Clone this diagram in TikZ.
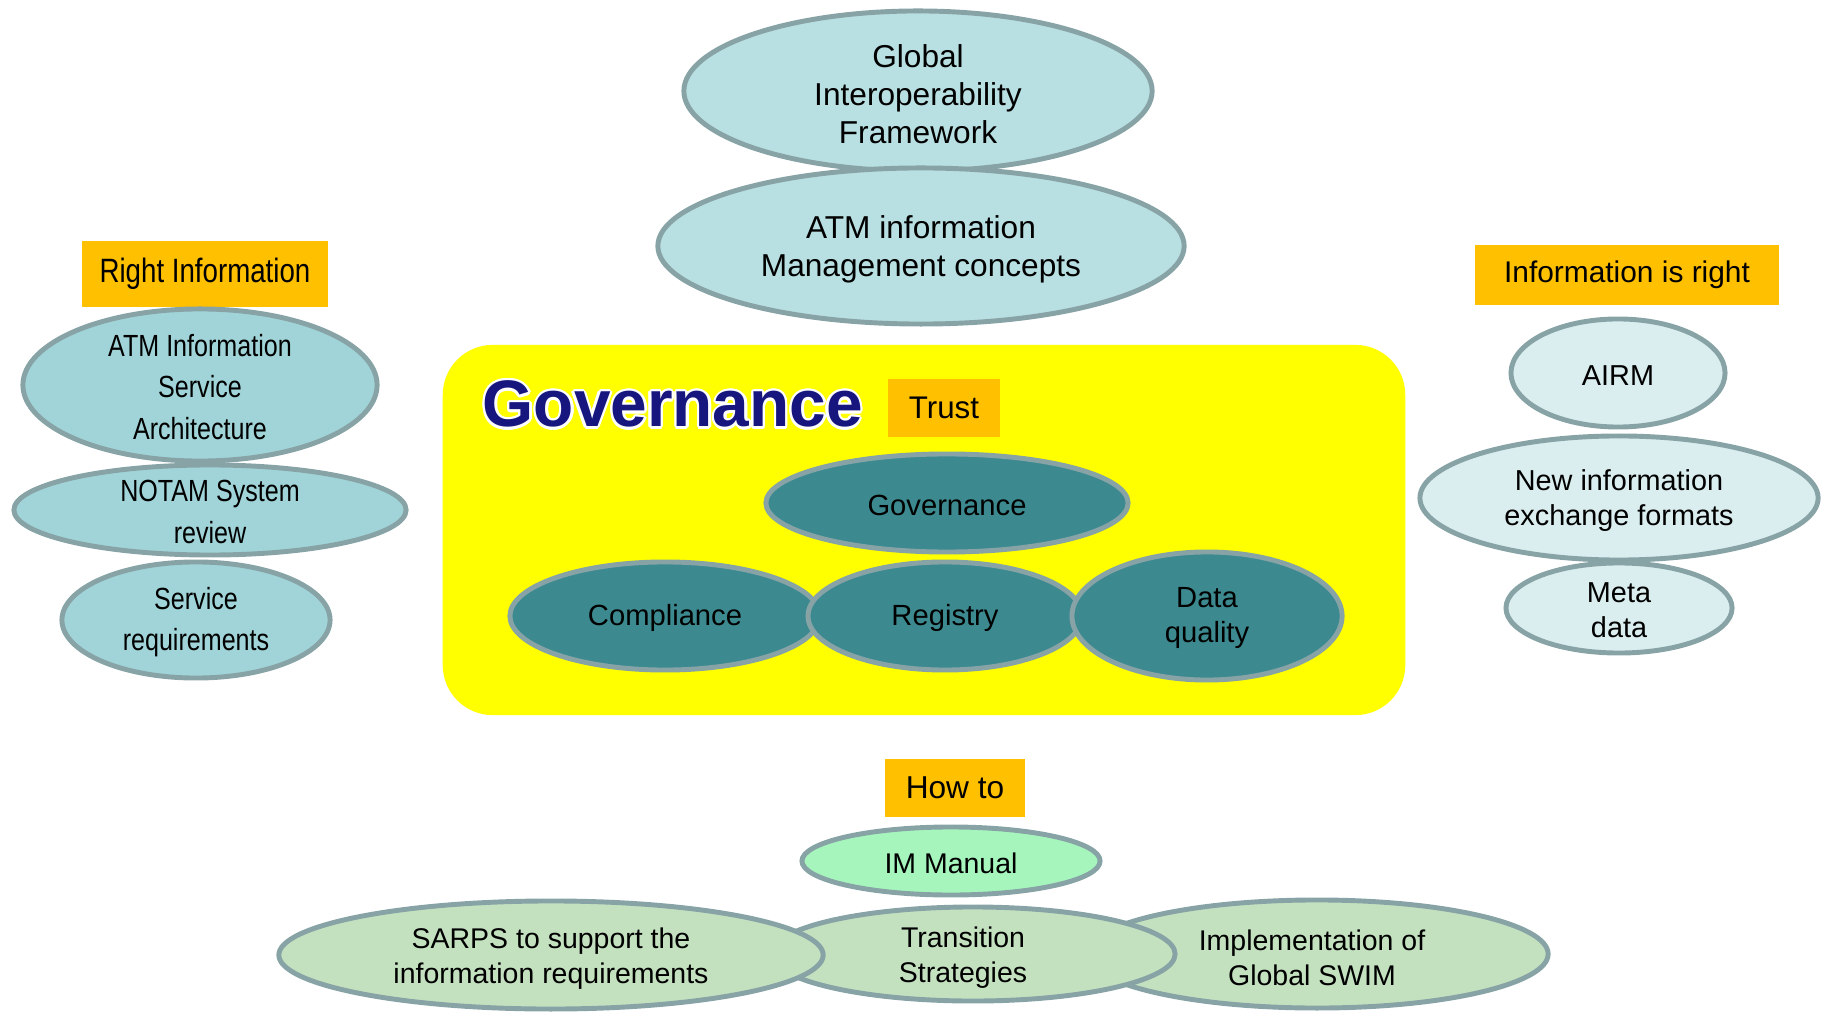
\documentclass[tikz,border=0pt]{standalone}
\usepackage{fontspec}
\setmainfont{Liberation Sans}
\newfontfamily\narrowsans[FakeStretch=0.82]{Liberation Sans}
\usepackage{contour}
\contourlength{0.7pt}
\usetikzlibrary{shapes.geometric}

\definecolor{tagorange}{HTML}{FFC000}
\definecolor{govyellow}{HTML}{FFFF00}
\definecolor{edgegray}{HTML}{87A3A6}
\definecolor{leftteal}{HTML}{A0D4D8}
\definecolor{topteal}{HTML}{B8DFE2}
\definecolor{rightteal}{HTML}{DAEDEF}
\definecolor{darkteal}{HTML}{3C8A90}
\definecolor{mintgreen}{HTML}{A6F5BD}
\definecolor{sagegreen}{HTML}{C3E1BF}
\definecolor{govblue}{HTML}{16167E}

\begin{document}
\begin{tikzpicture}[x=0.01cm,y=-0.01cm,
   blob/.style={ellipse,draw=edgegray,line width=1.4pt,inner sep=0pt},
   tag/.style={fill=tagorange,inner sep=0pt,align=center},
   toptxt/.style={align=center,inner sep=0pt,yshift=-0.035cm,font=\fontsize{9}{10.8}\selectfont},
   lefttxt/.style={align=center,inner sep=0pt,yshift=-0.02cm,font=\narrowsans\fontsize{8.7}{11.7}\selectfont},
   righttxt/.style={align=center,inner sep=0pt,yshift=-0.025cm,font=\fontsize{8.2}{10}\selectfont},
   innertxt/.style={align=center,inner sep=0pt,yshift=-0.02cm,font=\fontsize{8.3}{10}\selectfont},
   bottxt/.style={align=center,inner sep=0pt,yshift=-0.04cm,font=\fontsize{8.1}{10}\selectfont}]
   \useasboundingbox (0,0) rectangle (1828,1013);

   % top
   \node[blob,fill=topteal,minimum width=4.68cm,minimum height=1.60cm,
         label={[toptxt]center:{Global\\Interoperability\\Framework}}] (gif) at (918,91) {};
   \node[blob,fill=topteal,minimum width=5.26cm,minimum height=1.56cm,
         label={[toptxt]center:{ATM information\\Management concepts}}] (atmim) at (921,246) {};

   % left
   \node[tag,minimum width=2.46cm,minimum height=0.66cm,
         font=\narrowsans\fontsize{9.6}{11}\selectfont] (rightinfo) at (205,274) {Right Information};
   \node[blob,fill=leftteal,minimum width=3.54cm,minimum height=1.52cm,
         label={[lefttxt]center:{ATM Information\\Service\\Architecture}}] (aisa) at (200,385) {};
   \node[blob,fill=leftteal,minimum width=3.92cm,minimum height=0.90cm,
         label={[lefttxt]center:{NOTAM System\\review}}] (notam) at (210,510) {};
   \node[blob,fill=leftteal,minimum width=2.68cm,minimum height=1.16cm,
         label={[lefttxt]center:{Service\\requirements}}] (servreq) at (196,620) {};

   % governance
   \node[fill=govyellow,rounded corners=0.5cm,minimum width=9.62cm,minimum height=3.70cm,
         inner sep=0pt] (govbox) at (924,530) {};
   \node[anchor=base west,inner sep=0pt,text=govblue,
         font=\bfseries\fontsize{18.7}{20}\selectfont] (govtitle) at (482,427) {\contour{white}{Governance}};
   \node[tag,minimum width=1.11cm,minimum height=0.58cm,
         font=\fontsize{8.9}{10}\selectfont] (trust) at (944,408) {Trust};
   \node[blob,fill=darkteal,minimum width=3.62cm,minimum height=0.98cm,
         label={[innertxt]center:Governance}] (gov) at (947,503) {};
   \node[blob,fill=darkteal,minimum width=3.10cm,minimum height=1.08cm,
         label={[innertxt]center:Compliance}] (compl) at (665,616) {};
   \node[blob,fill=darkteal,minimum width=2.74cm,minimum height=1.08cm,
         label={[innertxt]center:Registry}] (regis) at (945,616) {};
   \node[blob,fill=darkteal,minimum width=2.70cm,minimum height=1.28cm,
         label={[innertxt]center:{Data\\quality}}] (dataq) at (1207,616) {};

   % right
   \node[tag,minimum width=3.04cm,minimum height=0.59cm,
         font=\fontsize{8.5}{10}\selectfont] (inforight) at (1627,275) {Information is right};
   \node[blob,fill=rightteal,minimum width=2.14cm,minimum height=1.08cm,
         label={[righttxt]center:AIRM}] (airm) at (1618,373) {};
   \node[blob,fill=rightteal,minimum width=3.98cm,minimum height=1.24cm,
         label={[righttxt]center:{New information\\exchange formats}}] (newfmt) at (1619,498) {};
   \node[blob,fill=rightteal,minimum width=2.26cm,minimum height=0.90cm,
         label={[righttxt]center:{Meta\\data}}] (meta) at (1619,608) {};

   % bottom
   \node[tag,minimum width=1.39cm,minimum height=0.58cm,
         font=\fontsize{9}{10}\selectfont] (howto) at (955,788) {How to};
   \node[blob,fill=mintgreen,minimum width=2.98cm,minimum height=0.68cm,
         label={[bottxt,yshift=0.02cm]center:IM Manual}] (immanual) at (951,861) {};
   \node[blob,fill=sagegreen,minimum width=4.62cm,minimum height=1.08cm,
         label={[bottxt,xshift=-0.05cm]center:{Implementation of\\Global SWIM}}] (swim) at (1317,954) {};
   \node[blob,fill=sagegreen,minimum width=4.04cm,minimum height=0.94cm,
         label={[bottxt,xshift=-0.1cm]center:{Transition\\Strategies}}] (transit) at (973,954) {};
   \node[blob,fill=sagegreen,minimum width=5.44cm,minimum height=1.08cm,
         label={[bottxt]center:{SARPS to support the\\information requirements}}] (sarps) at (551,955) {};
\end{tikzpicture}
\end{document}
